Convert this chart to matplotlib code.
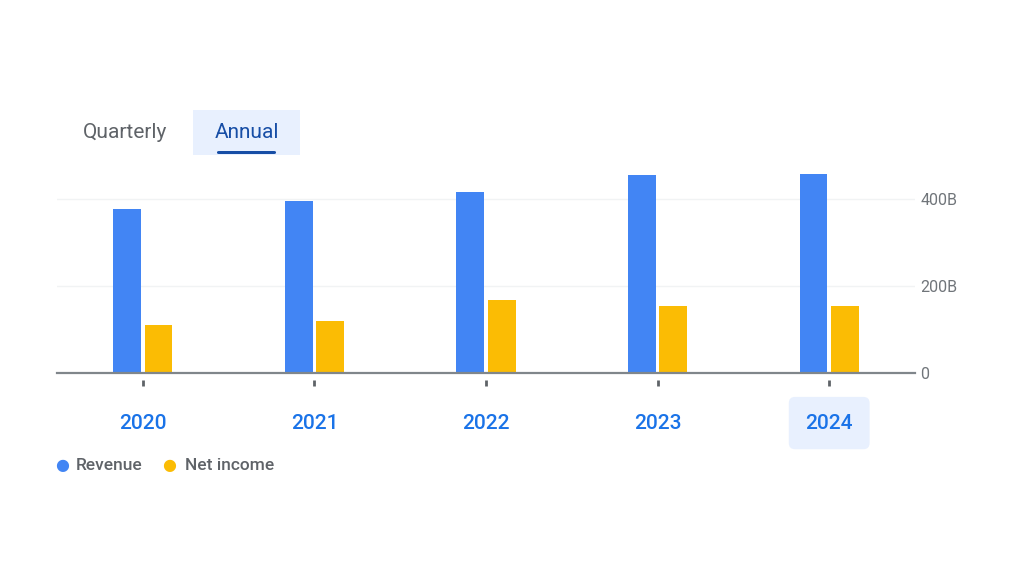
import matplotlib.pyplot as plt
from matplotlib.patches import FancyBboxPatch
from matplotlib.transforms import blended_transform_factory
import numpy as np

# data (billions)
years = ["2020", "2021", "2022", "2023", "2024"]
revenue = [378, 396, 416, 455, 457]
net_income = [110, 120, 168, 153, 155]
y_ticks = [0, 200, 400]
y_tick_labels = ["0", "200B", "400B"]

plt.rcParams['font.family'] = ['Roboto', 'DejaVu Sans']

blue = "#4285f4"
yellow = "#fbbc04"
grey_text = "#5f6368"
link_blue = "#1a73e8"

fig = plt.figure(figsize=(10.24, 5.85), dpi=100)
ax = fig.add_axes([57 / 1024, 1 - 373 / 585, 858 / 1024, 213 / 585])

x = np.arange(len(years))
width = 0.163
gap = 0.01

ax.bar(x - width / 2 - gap, revenue, width=width, color=blue, zorder=3)
ax.bar(x + width / 2 + gap, net_income, width=width, color=yellow, zorder=3)

ax.set_xlim(-0.5, len(years) - 0.5)
ax.set_ylim(0, 490)

# gridlines and axis line
ax.set_yticks(y_ticks)
ax.set_yticklabels(y_tick_labels)
ax.yaxis.tick_right()
ax.tick_params(axis='y', length=0, pad=4, labelsize=11.5, labelcolor="#70757a")
ax.grid(axis='y', color="#f1f3f4", linewidth=1, zorder=0)
for s in ["top", "right", "left"]:
    ax.spines[s].set_visible(False)
ax.spines["bottom"].set_color("#80868b")
ax.spines["bottom"].set_linewidth(1.6)
ax.spines["bottom"].set_zorder(4)

# x ticks: small marks detached from the axis line, labels below
ax.set_xticks(x)
ax.set_xticklabels([])
ax.tick_params(axis='x', length=0)
trans = blended_transform_factory(ax.transData, ax.transAxes)
ax.plot(x, [-0.047] * len(x), linestyle="none", marker="|", markersize=4,
        markeredgewidth=2, color="#5f6368", transform=trans, clip_on=False)

for i, yr in enumerate(years):
    if i == len(years) - 1:
        ax.text(i, -0.235, yr, transform=trans, ha="center", va="center",
                fontsize=15, fontweight=500, color=link_blue,
                bbox=dict(boxstyle="round,pad=0.8,rounding_size=0.3",
                          fc="#e8f0fe", ec="none"))
    else:
        ax.text(i, -0.235, yr, transform=trans, ha="center", va="center",
                fontsize=15, fontweight=500, color=link_blue)

# legend
fig.text(62 / 1024, 1 - 465 / 585, "\u25CF", color=blue, fontsize=11.5,
         ha="center", va="center", family="DejaVu Sans")
fig.text(76 / 1024, 1 - 466 / 585, "Revenue", color=grey_text, fontsize=12.5,
         fontweight=500, ha="left", va="center")
fig.text(169 / 1024, 1 - 465 / 585, "\u25CF", color=yellow, fontsize=11.5,
         ha="center", va="center", family="DejaVu Sans")
fig.text(185 / 1024, 1 - 466 / 585, "Net income", color=grey_text, fontsize=12.5,
         fontweight=500, ha="left", va="center")

# tabs
fig.text(125 / 1024, 1 - 133 / 585, "Quarterly", color=grey_text, fontsize=15,
         ha="center", va="center")
fig.patches.append(FancyBboxPatch((193 / 1024, 1 - 155 / 585), 107 / 1024, 45 / 585,
                                  boxstyle="square,pad=0", fc="#e8f0fe", ec="none",
                                  transform=fig.transFigure))
fig.text(247 / 1024, 1 - 133 / 585, "Annual", color="#174ea6", fontsize=15,
         ha="center", va="center")
fig.patches.append(FancyBboxPatch((217 / 1024, 1 - 154 / 585), 59 / 1024, 3 / 585,
                                  boxstyle="round,pad=0,rounding_size=0.002",
                                  fc="#174ea6", ec="none", transform=fig.transFigure))

fig.savefig("out.png", dpi=100)
